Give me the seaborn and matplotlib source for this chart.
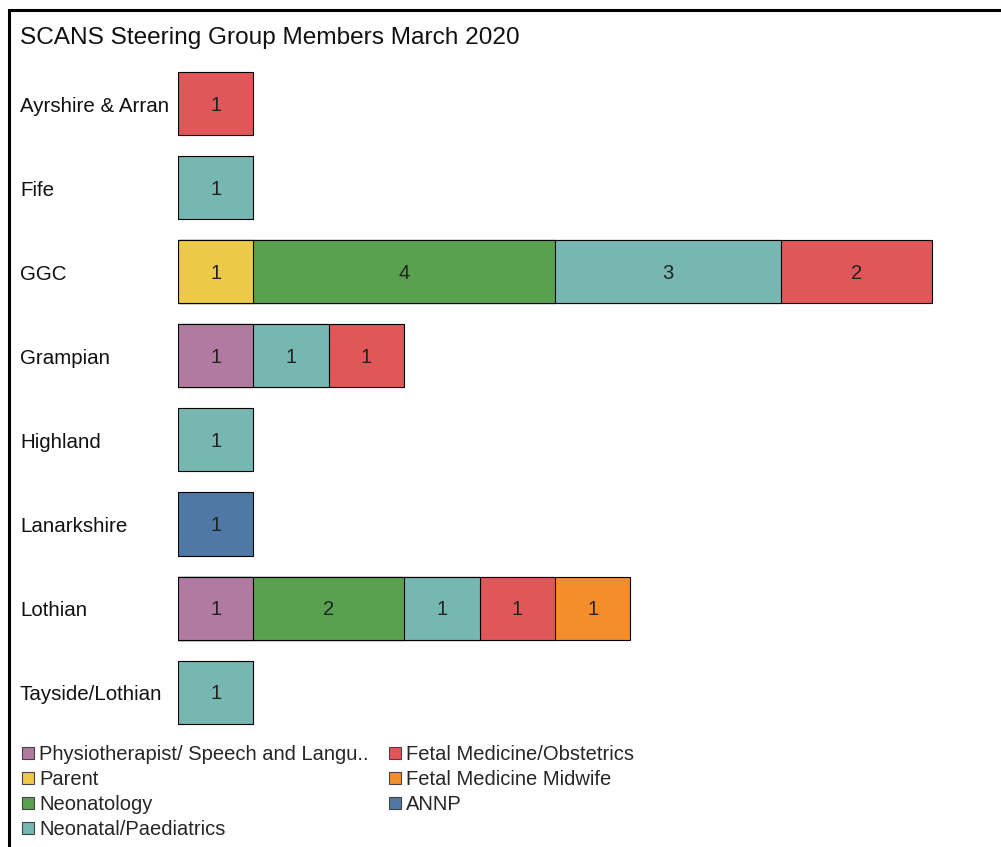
import matplotlib
matplotlib.use("Agg")
import matplotlib.pyplot as plt
from matplotlib.patches import Patch, Rectangle
import seaborn as sns
import pandas as pd
import numpy as np

regions = ["Ayrshire & Arran", "Fife", "GGC", "Grampian", "Highland",
           "Lanarkshire", "Lothian", "Tayside/Lothian"]
roles = ["Physiotherapist/ Speech and Langu..", "Parent", "Neonatology",
         "Neonatal/Paediatrics", "Fetal Medicine/Obstetrics",
         "Fetal Medicine Midwife", "ANNP"]
physio      = [0, 0, 0, 1, 0, 0, 1, 0]
parent      = [0, 0, 1, 0, 0, 0, 0, 0]
neonatology = [0, 0, 4, 0, 0, 0, 2, 0]
neonatal    = [0, 1, 3, 1, 1, 0, 1, 1]
fetal_obs   = [1, 0, 2, 1, 0, 0, 1, 0]
midwife     = [0, 0, 0, 0, 0, 0, 1, 0]
annp        = [0, 0, 0, 0, 0, 1, 0, 0]
role_colors = ["#B07AA1", "#EDC948", "#59A14F", "#76B7B2",
               "#E15759", "#F28E2B", "#4E79A7"]
title = "SCANS Steering Group Members March 2020"

series = [physio, parent, neonatology, neonatal, fetal_obs, midwife, annp]
rows = []
for ri, reg in enumerate(regions):
    cum = 0
    for k, role in enumerate(roles):
        v = series[k][ri]
        if v > 0:
            cum += v
            rows.append(dict(region=reg, role=role, count=v, cum=cum))
df = pd.DataFrame(rows)

sns.set_theme(style="white")
plt.rcParams['font.family'] = ['Liberation Sans', 'DejaVu Sans']

fig = plt.figure(figsize=(10.01, 8.47), dpi=100)
W, H = 1001, 847
ax_left, ax_right = 178, 1000
ax_top, ax_bot = 62, 734
ax = fig.add_axes([ax_left / W, 1 - ax_bot / H, (ax_right - ax_left) / W, (ax_bot - ax_top) / H])

# draw cumulative bars, last role first, so earlier segments overlay
for k in range(len(roles) - 1, -1, -1):
    sub = df[df.role == roles[k]]
    if sub.empty:
        continue
    sns.barplot(data=sub, x="cum", y="region", order=regions, orient="y",
                color=role_colors[k], saturation=1, width=0.75,
                edgecolor="black", linewidth=0.8, errorbar=None, ax=ax)

pos = {r: i for i, r in enumerate(regions)}
for _, r in df.iterrows():
    ax.text(r["cum"] - r["count"] / 2, pos[r["region"]] + 0.02, str(int(r["count"])),
            ha="center", va="center", fontsize=14.5, color="#222222")

unit_px = (932 - 178) / 10.0
ax.set_xlim(0, (ax_right - ax_left) / unit_px)
ax.set_ylim(len(regions) - 0.5, -0.5)
ax.set_xlabel("")
ax.set_ylabel("")
ax.set_xticks([])
ax.set_yticks(range(len(regions)))
ax.set_yticklabels(regions, fontsize=14.8, color="#111111", ha="left")
ax.tick_params(axis="y", length=0, pad=(ax_left - 20) * 72 / 100)
for s in ax.spines.values():
    s.set_visible(False)
ax.set_facecolor("white")

fig.text(20 / W, 1 - 38 / H, title, fontsize=17.6, ha="left", va="center", color="#111111")

handles = [Patch(facecolor=c, edgecolor="#444444", linewidth=0.8) for c in role_colors]
fig.legend(handles, roles, loc="upper left", bbox_to_anchor=(22 / W, 1 - 745 / H),
           ncol=2, frameon=False, fontsize=14.5, handlelength=0.6, handleheight=0.6,
           handletextpad=0.25, columnspacing=1.0, labelspacing=0.3, borderpad=0,
           borderaxespad=0)

fig.patches.append(Rectangle((9 / W, -0.05), 1.2, 1.05 - 10 / H, transform=fig.transFigure,
                             fill=False, edgecolor="black", linewidth=2.2))

fig.savefig("out.png", dpi=100, facecolor="white")
